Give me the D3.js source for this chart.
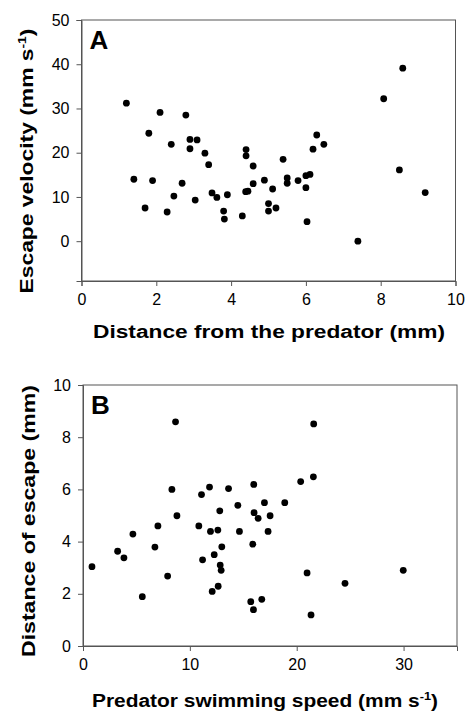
<!DOCTYPE html>
<html>
<head>
<meta charset="utf-8">
<script src="https://cdn.jsdelivr.net/npm/d3@7"></script>
<style>
  body { margin: 0; background: #fff; }
  svg { display: block; font-family: "Liberation Sans", Arial, sans-serif; }
  .tick text { font-size: 16px; fill: #000; }
  .title { font-weight: bold; font-size: 18px; fill: #000; }
  .panel { font-weight: bold; font-size: 26px; fill: #000; }
</style>
</head>
<body>
<svg id="chart" width="467" height="716"></svg>
<script>
// panel A: distance from predator (mm) vs escape velocity (mm/s)
const distA = [1.20, 2.10, 2.79, 1.80, 2.90, 3.09, 2.40, 2.90, 3.30, 3.40, 4.40, 4.40, 4.59,
  1.40, 1.90, 2.69, 4.59, 4.89, 4.39, 4.45, 2.47, 3.49, 3.62, 3.90, 3.04, 1.70, 2.29, 3.80,
  3.82, 4.30, 5.11, 5.00, 5.00, 5.20, 5.39, 5.50, 5.50, 5.79, 6.00, 6.11, 6.00, 6.03, 6.19,
  6.29, 6.48, 7.39, 8.08, 8.59, 8.50, 9.19];
const velA = [31.2, 29.1, 28.5, 24.4, 23.0, 22.9, 21.9, 20.9, 19.9, 17.3, 20.7, 19.3, 17.0,
  14.0, 13.7, 13.1, 13.0, 13.8, 11.2, 11.3, 10.2, 10.9, 9.9, 10.5, 9.3, 7.5, 6.6, 6.8,
  5.0, 5.7, 11.8, 8.5, 6.8, 7.5, 18.5, 14.3, 13.1, 13.7, 14.8, 15.1, 12.1, 4.4, 20.8,
  24.0, 21.9, 0.0, 32.2, 39.1, 16.1, 11.0];

// panel B: predator swimming speed (mm/s) vs distance of escape (mm)
const speedB = [0.84, 3.24, 3.83, 4.67, 5.55, 6.73, 7.01, 7.92, 8.32, 8.66, 8.79, 10.84,
  11.09, 11.19, 11.84, 11.93, 12.09, 12.28, 12.62, 12.65, 12.80, 12.84, 12.93, 12.99, 13.62,
  14.49, 14.64, 15.98, 15.89, 16.01, 16.39, 15.70, 15.95, 16.73, 16.98, 17.51, 17.32, 18.88,
  20.37, 21.56, 21.59, 20.97, 21.34, 24.52, 29.97];
const escB = [3.04, 3.63, 3.38, 4.29, 1.89, 3.79, 4.60, 2.68, 6.00, 8.59, 4.99, 4.60,
  5.80, 3.30, 6.09, 4.39, 2.09, 3.50, 4.44, 2.29, 5.18, 3.10, 2.90, 3.80, 6.03,
  5.39, 4.39, 6.19, 3.90, 5.11, 4.89, 1.70, 1.39, 1.79, 5.49, 4.99, 4.39, 5.49,
  6.30, 6.48, 8.51, 2.80, 1.19, 2.40, 2.90];

const ticksAx = [0, 2, 4, 6, 8, 10];
const ticksAy = [0, 10, 20, 30, 40, 50];
const ticksBx = [0, 10, 20, 30];
const ticksBy = [0, 2, 4, 6, 8, 10];

const svg = d3.select('#chart');
const axisColor = '#555';

function drawPanel(cfg) {
  const x = d3.scaleLinear().domain(cfg.xDomain).range([cfg.left, cfg.right]);
  const y = d3.scaleLinear().domain(cfg.yDomain).range([cfg.bottom, cfg.top]);
  const g = svg.append('g');

  // frame (top + right edges)
  g.append('rect')
    .attr('x', cfg.left).attr('y', cfg.top)
    .attr('width', cfg.right - cfg.left).attr('height', cfg.bottom - cfg.top)
    .attr('fill', 'none').attr('stroke', axisColor).attr('stroke-width', 1);

  const xAxis = g.append('g').attr('transform', `translate(0,${cfg.bottom})`)
    .call(d3.axisBottom(x).tickValues(cfg.xTicks).tickSize(5).tickPadding(8));
  const yAxis = g.append('g').attr('transform', `translate(${cfg.left},0)`)
    .call(d3.axisLeft(y).tickValues(cfg.yTicks).tickSize(5).tickPadding(7));
  [xAxis, yAxis].forEach(a => {
    a.select('.domain').attr('stroke', axisColor);
    a.selectAll('.tick line').attr('stroke', axisColor);
  });

  g.append('g').selectAll('circle').data(cfg.xs).enter().append('circle')
    .attr('cx', d => x(d)).attr('cy', (d, i) => y(cfg.ys[i]))
    .attr('r', 3.4).attr('fill', '#000');

  g.append('text').attr('class', 'panel')
    .attr('x', cfg.left + 8).attr('y', cfg.top + 29).text(cfg.label);

  // x title
  const xt = g.append('text').attr('class', 'title')
    .attr('x', cfg.xTitleX).attr('y', cfg.xTitleY).attr('text-anchor', 'middle')
    .attr('textLength', cfg.xTitleLen).attr('lengthAdjust', 'spacingAndGlyphs');
  xt.append('tspan').text(cfg.xTitle[0]);
  if (cfg.xTitle.length > 1) {
    xt.append('tspan').attr('dy', -7).attr('font-size', 11).text(cfg.xTitle[1]);
    xt.append('tspan').attr('dy', 7).text(cfg.xTitle[2]);
  }

  // y title
  const yt = g.append('text').attr('class', 'title')
    .attr('transform', `translate(${cfg.yTitleX},${cfg.yTitleY}) rotate(-90)`)
    .attr('text-anchor', 'middle')
    .attr('textLength', cfg.yTitleLen).attr('lengthAdjust', 'spacingAndGlyphs');
  yt.append('tspan').text(cfg.yTitle[0]);
  if (cfg.yTitle.length > 1) {
    yt.append('tspan').attr('dy', -7).attr('font-size', 11).text(cfg.yTitle[1]);
    yt.append('tspan').attr('dy', 7).text(cfg.yTitle[2]);
  }
}

drawPanel({
  left: 81.5, right: 455.5, top: 20, bottom: 281,
  xDomain: [0, 10], yDomain: [-9, 50], xTicks: ticksAx, yTicks: ticksAy,
  xs: distA, ys: velA, label: 'A',
  xTitle: ['Distance from the predator (mm)'], xTitleX: 269, xTitleY: 338, xTitleLen: 352,
  yTitle: ['Escape velocity (mm s', '-1', ')'], yTitleX: 33, yTitleY: 161, yTitleLen: 265
});

drawPanel({
  left: 83, right: 457, top: 385, bottom: 646,
  xDomain: [0, 35], yDomain: [0, 10], xTicks: ticksBx, yTicks: ticksBy,
  xs: speedB, ys: escB, label: 'B',
  xTitle: ['Predator swimming speed (mm s', '-1', ')'], xTitleX: 265, xTitleY: 707, xTitleLen: 346,
  yTitle: ['Distance of escape (mm)'], yTitleX: 35, yTitleY: 521, yTitleLen: 272
});
</script>
</body>
</html>
